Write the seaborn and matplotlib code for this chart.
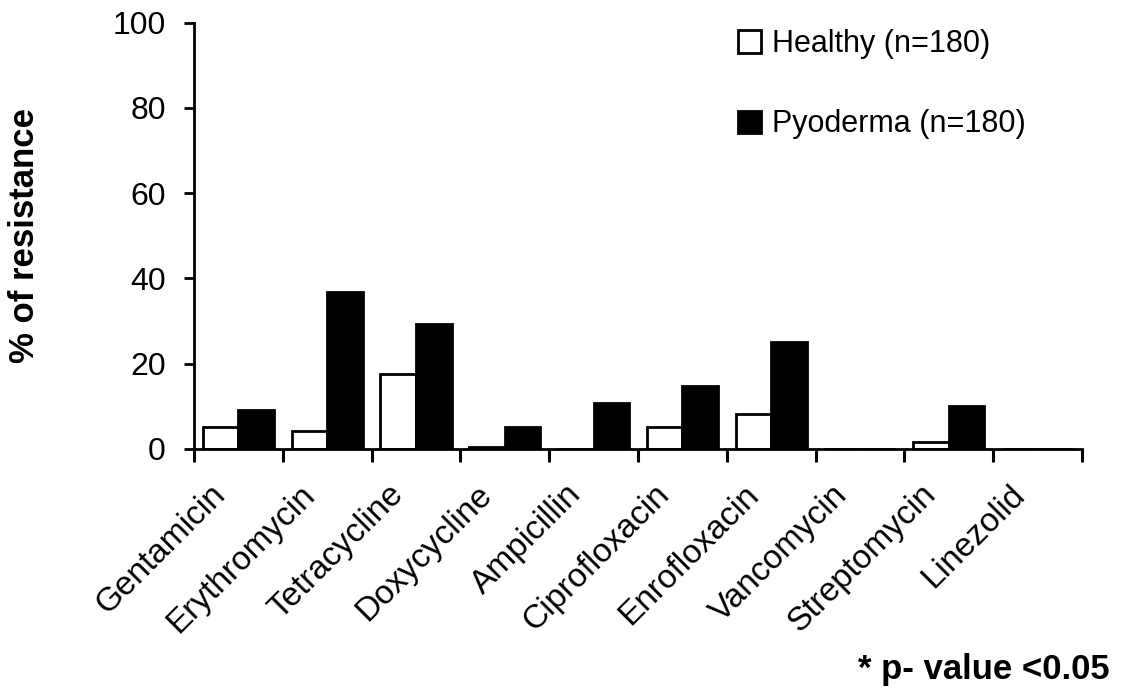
import numpy as np
import pandas as pd
import matplotlib
matplotlib.use("Agg")
import matplotlib.pyplot as plt
from matplotlib.ticker import FixedLocator, NullFormatter
from matplotlib.patches import Patch
from matplotlib.transforms import ScaledTranslation
import seaborn as sns

antibiotics = ["Gentamicin", "Erythromycin", "Tetracycline", "Doxycycline", "Ampicillin",
               "Ciprofloxacin", "Enrofloxacin", "Vancomycin", "Streptomycin", "Linezolid"]
healthy = [5.1, 4.2, 17.5, 0.5, 0.0, 5.1, 8.2, 0.0, 1.6, 0.0]
pyoderma = [9.1, 36.9, 29.4, 5.1, 10.8, 14.7, 25.0, 0.0, 10.0, 0.0]
groups = ["Healthy (n=180)", "Pyoderma (n=180)"]
yticks = [0, 20, 40, 60, 80, 100]

df = pd.DataFrame({
    "antibiotic": antibiotics * 2,
    "value": healthy + pyoderma,
    "group": [groups[0]] * len(antibiotics) + [groups[1]] * len(antibiotics),
})

sns.set_theme(style="white")
plt.rcParams["font.family"] = ["Liberation Sans", "DejaVu Sans"]
plt.rcParams["text.color"] = "black"
plt.rcParams["xtick.color"] = "black"
plt.rcParams["ytick.color"] = "black"
plt.rcParams["axes.labelcolor"] = "black"

fig = plt.figure(figsize=(11.25, 6.98), dpi=100)
ax_left, ax_right, ax_top, ax_bottom = 194, 1082, 22.7, 449
ax = fig.add_axes([ax_left / 1125, 1 - ax_bottom / 698, (ax_right - ax_left) / 1125,
                   (ax_bottom - ax_top) / 698])

sns.barplot(data=df, x="antibiotic", y="value", hue="group", order=antibiotics,
            hue_order=groups, palette=["white", "black"], width=0.8,
            edgecolor="black", linewidth=2.0, saturation=1, ax=ax, legend=False)

ax.set_xlim(-0.5, len(antibiotics) - 0.5)
ax.set_ylim(0, 100)
ax.set_yticks(yticks)
ax.set_yticklabels([str(v) for v in yticks], fontsize=23, color="black")
ax.tick_params(axis="y", direction="out", length=7.2, width=2, pad=13, left=True, colors="black")

# boundary ticks (major) without labels, names on minor ticks at centres
ax.xaxis.set_major_locator(FixedLocator(np.arange(-0.5, len(antibiotics), 1.0)))
ax.xaxis.set_major_formatter(NullFormatter())
ax.xaxis.set_minor_locator(FixedLocator(np.arange(len(antibiotics))))
ax.set_xticks(np.arange(len(antibiotics)), minor=True)
ax.set_xticklabels(antibiotics, minor=True, rotation=45, ha="right", fontsize=24, color="black")
ax.tick_params(axis="x", which="major", direction="out", length=9, width=2.2, bottom=True,
               colors="black")
ax.tick_params(axis="x", which="minor", length=0, pad=21.5, bottom=True, colors="black")
ax.set_xlabel("")

shift = ScaledTranslation(-6.5 / 100, 0, fig.dpi_scale_trans)
for lbl in ax.get_xticklabels(minor=True):
    lbl.set_transform(lbl.get_transform() + shift)

for side in ["top", "right"]:
    ax.spines[side].set_visible(False)
for side in ["left", "bottom"]:
    ax.spines[side].set_color("black")
    ax.spines[side].set_linewidth(2)

ax.set_ylabel("% of resistance", fontsize=25, fontweight="bold", color="black")
ax.yaxis.set_label_coords(-0.172, 0.5)

handles = [Patch(facecolor="white", edgecolor="black", linewidth=2, label=groups[0]),
           Patch(facecolor="black", edgecolor="black", linewidth=2, label=groups[1])]
fig.legend(handles=handles, loc="upper left", bbox_to_anchor=(738 / 1125, 1 - 29 / 698),
           frameon=False, fontsize=22, handlelength=0.75, handleheight=0.75,
           handletextpad=0.35, labelspacing=1.65, borderpad=0, borderaxespad=0,
           labelcolor="black")

fig.text(1110 / 1125, 1 - 679 / 698, "* p- value <0.05", ha="right", va="baseline",
         fontsize=25, fontweight="bold", color="black")

fig.savefig("out.png", dpi=100, facecolor="white")
